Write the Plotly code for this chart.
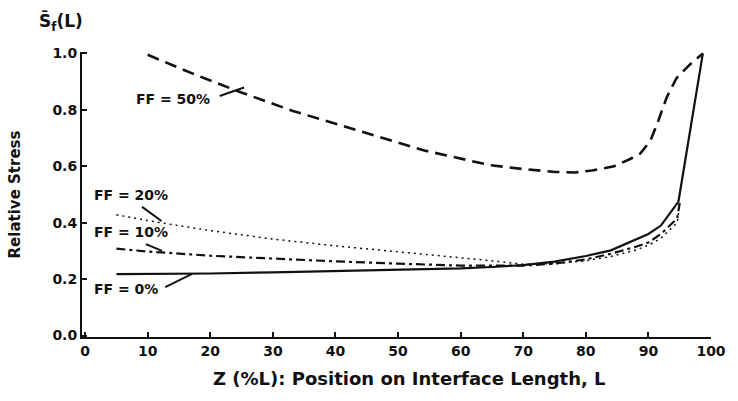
import plotly.graph_objects as go

# FF = 0% (solid)
x_ff0 = [5, 10, 20, 30, 40, 50, 60, 65, 70, 75, 80, 84, 88, 90, 92, 94.8, 98.7]
y_ff0 = [0.218, 0.218, 0.220, 0.224, 0.228, 0.232, 0.238, 0.243, 0.250, 0.262, 0.282, 0.302, 0.340, 0.360, 0.390, 0.475, 1.0]

# FF = 10% (dash-dot)
x_ff10 = [5, 10, 20, 30, 40, 50, 60, 70, 75, 80, 84, 88, 90, 92, 94.6, 95.0]
y_ff10 = [0.308, 0.298, 0.283, 0.272, 0.263, 0.255, 0.248, 0.248, 0.255, 0.270, 0.290, 0.315, 0.330, 0.360, 0.415, 0.470]

# FF = 20% (dotted)
x_ff20 = [5, 12, 20, 30, 40, 50, 57, 65, 70, 75, 80, 84, 88, 90, 92, 94.6, 95.0]
y_ff20 = [0.428, 0.400, 0.372, 0.342, 0.318, 0.298, 0.282, 0.265, 0.253, 0.255, 0.265, 0.280, 0.303, 0.320, 0.345, 0.400, 0.470]

# FF = 50% (dashed)
x_ff50 = [10, 17, 24.3, 33.2, 43.7, 54.2, 64.7, 70, 75.1, 78.3, 81, 84.5, 87, 88.7, 90.3, 91.4, 92.9, 94.5, 96.6, 98.7]
y_ff50 = [0.995, 0.930, 0.867, 0.796, 0.726, 0.656, 0.604, 0.590, 0.580, 0.578, 0.585, 0.600, 0.625, 0.645, 0.690, 0.750, 0.843, 0.913, 0.960, 1.0]

x_ticks = [0, 10, 20, 30, 40, 50, 60, 70, 80, 90, 100]
y_ticks = [0.0, 0.2, 0.4, 0.6, 0.8, 1.0]
y_tick_labels = ["0.0", "0.2", "0.4", "0.6", "0.8", "1.0"]

FONT = "DejaVu Sans"
BLACK = "#111111"

def bfont(size):
    return dict(family=FONT, size=size, color=BLACK, weight="bold")

fig = go.Figure()
fig.add_trace(go.Scatter(x=x_ff50, y=y_ff50, mode="lines",
                         line=dict(color=BLACK, width=2.6, dash="12px,7px")))
fig.add_trace(go.Scatter(x=x_ff20, y=y_ff20, mode="lines",
                         line=dict(color=BLACK, width=1.5, dash="2px,4px")))
fig.add_trace(go.Scatter(x=x_ff10, y=y_ff10, mode="lines",
                         line=dict(color=BLACK, width=2.2, dash="9px,4px,3px,4px")))
fig.add_trace(go.Scatter(x=x_ff0, y=y_ff0, mode="lines",
                         line=dict(color=BLACK, width=2.2)))

labels = [
    ("FF = 50%", 14.1, 0.837, (21.5, 0.849), (25.4, 0.879)),
    ("FF = 20%", 7.4, 0.500, (9.1, 0.456), (12.2, 0.406)),
    ("FF = 10%", 7.4, 0.367, (9.7, 0.324), (12.3, 0.300)),
    ("FF = 0%", 6.6, 0.166, (12.8, 0.172), (17.1, 0.219)),
]
for text, tx, ty, p0, p1 in labels:
    fig.add_annotation(x=tx, y=ty, text=text, showarrow=False, xanchor="center",
                       font=bfont(14))
    fig.add_shape(type="line", x0=p0[0], y0=p0[1], x1=p1[0], y1=p1[1],
                  line=dict(color=BLACK, width=2))

fig.add_annotation(xref="paper", yref="paper", x=-0.034, y=1.0, xanchor="center",
                   yanchor="bottom", yshift=16, text="S̄<sub>f</sub>(L)",
                   showarrow=False, font=bfont(17))
fig.add_annotation(xref="paper", yref="paper", x=0.52, y=0, xanchor="center",
                   yanchor="top", yshift=-29,
                   text="Z (%L): Position on Interface Length, L",
                   showarrow=False, font=bfont(18))

fig.update_layout(
    width=738, height=401,
    margin=dict(l=82, r=16, t=52, b=64),
    paper_bgcolor="white", plot_bgcolor="white",
    showlegend=False,
    font=dict(family=FONT, color=BLACK),
)
fig.update_xaxes(range=[-0.5, 100], tickvals=x_ticks, ticks="inside", ticklen=5,
                 tickwidth=2, tickcolor=BLACK, showline=True, linecolor=BLACK,
                 linewidth=2, showgrid=False, zeroline=False,
                 tickfont=bfont(14))
fig.update_yaxes(range=[-0.005, 1.005], tickvals=y_ticks, ticktext=y_tick_labels,
                 ticks="inside", ticklen=5, tickwidth=2, tickcolor=BLACK,
                 showline=True, linecolor=BLACK, linewidth=2, showgrid=False,
                 zeroline=False, title=dict(text="Relative Stress", standoff=28,
                 font=bfont(15)),
                 tickfont=bfont(14))

fig.write_html("out.html")
